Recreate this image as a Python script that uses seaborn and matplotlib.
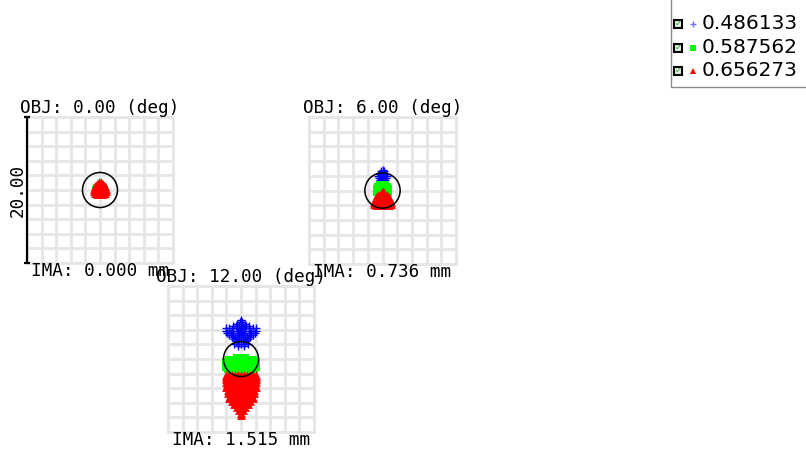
import matplotlib
matplotlib.use("Agg")
import numpy as np
import pandas as pd
import matplotlib.pyplot as plt
from matplotlib.patches import Circle, Rectangle
import seaborn as sns

# Wavelengths (um) and how each one is drawn
wavelengths = ["0.486133", "0.587562", "0.656273"]
wave_colors = ["#0000ff", "#00ff00", "#ff0000"]
wave_markers = ["+", "s", "^"]
wave_sizes = [36, 26, 40]

# Field points
field_angles = ["0.00", "6.00", "12.00"]
image_heights = ["0.000", "0.736", "1.515"]

scale_bar_um = 20.00
airy_radius_um = 2.4

# Ray intercepts relative to the chief ray (um), stored as rows of (y, [x, ...])
spot_f0_blue = [
    (0.5, [0.0]),
    (0.2, [-0.3, 0.3]),
    (-0.1, [-0.45, 0.0, 0.45]),
    (-0.4, [-0.3, 0.3]),
]
spot_f0_green = [
    (0.55, [0.0]),
    (0.25, [-0.35, 0.35]),
    (-0.05, [-0.5, 0.0, 0.5]),
    (-0.35, [-0.4, 0.0, 0.4]),
]
spot_f0_red = [
    (1.05, [-0.15, 0.15]),
    (0.8, [-0.42, -0.12, 0.12, 0.42]),
    (0.5, [-0.62, -0.22, 0.22, 0.62]),
    (0.2, [-0.78, -0.4, 0.0, 0.4, 0.78]),
    (-0.1, [-0.8, -0.45, -0.12, 0.12, 0.45, 0.8]),
    (-0.4, [-0.66, -0.33, 0.0, 0.33, 0.66]),
    (-0.5, [-0.4, 0.0, 0.4]),
]

spot_f6_blue = [
    (2.85, [0.0]),
    (2.6, [-0.15, 0.15]),
    (2.3, [-0.5, -0.2, 0.2, 0.5]),
    (2.0, [-0.55, -0.25, 0.0, 0.25, 0.55]),
    (1.7, [-0.5, -0.2, 0.2, 0.5]),
    (1.4, [-0.35, 0.0, 0.35]),
]
spot_f6_green = [
    (0.75, [-0.3, 0.0, 0.3]),
    (0.45, [-0.65, -0.3, 0.0, 0.3, 0.65]),
    (0.15, [-0.8, -0.48, -0.15, 0.15, 0.48, 0.8]),
    (-0.15, [-0.8, -0.48, -0.15, 0.15, 0.48, 0.8]),
]
spot_f6_red = [
    (-0.05, [0.0]),
    (-0.35, [-0.25, 0.25]),
    (-0.65, [-0.55, -0.2, 0.2, 0.55]),
    (-0.95, [-0.85, -0.5, -0.15, 0.15, 0.5, 0.85]),
    (-1.25, [-1.05, -0.72, -0.38, 0.0, 0.38, 0.72, 1.05]),
    (-1.55, [-1.2, -0.9, -0.55, -0.2, 0.2, 0.55, 0.9, 1.2]),
    (-1.8, [-1.2, -0.85, -0.5, -0.15, 0.15, 0.5, 0.85, 1.2]),
    (-1.95, [-0.85, -0.42, 0.0, 0.42, 0.85]),
]

spot_f12_blue = [
    (5.35, [0.0]),
    (5.05, [-0.2, 0.2]),
    (4.8, [-0.5, 0.0, 0.5]),
    (4.5, [-1.1, -0.7, -0.3, 0.0, 0.3, 0.7, 1.1]),
    (4.2, [-2.0, -1.6, -1.1, -0.6, -0.2, 0.2, 0.6, 1.1, 1.6, 2.0]),
    (3.9, [-2.1, -1.7, -1.3, -0.5, -0.15, 0.15, 0.5, 1.3, 1.7, 2.1]),
    (3.6, [-1.9, -1.4, -0.4, 0.0, 0.4, 1.4, 1.9]),
    (3.3, [-1.7, -1.1, -0.3, 0.3, 1.1, 1.7]),
    (3.0, [-1.3, -0.8, -0.3, 0.3, 0.8, 1.3]),
    (2.7, [-1.0, -0.5, 0.0, 0.5, 1.0]),
    (2.4, [-0.7, -0.3, 0.3, 0.7]),
    (2.1, [-0.9, -0.4, 0.0, 0.4, 0.9]),
    (1.8, [-0.4, 0.4]),
]
spot_f12_green = [
    (0.15, [-0.6, -0.2, 0.2, 0.6]),
    (-0.15, [-1.6, -1.2, -0.8, -0.4, 0.0, 0.4, 0.8, 1.2, 1.6]),
    (-0.45, [-2.0, -1.6, -1.2, -0.8, -0.4, 0.0, 0.4, 0.8, 1.2, 1.6, 2.0]),
    (-0.75, [-2.0, -1.6, -1.2, -0.8, -0.4, 0.0, 0.4, 0.8, 1.2, 1.6, 2.0]),
    (-1.05, [-2.0, -1.6, -1.2, -0.8, -0.4, 0.0, 0.4, 0.8, 1.2, 1.6, 2.0]),
    (-1.35, [-1.8, -1.4, -1.0, -0.6, -0.2, 0.2, 0.6, 1.0, 1.4, 1.8]),
    (-1.6, [-1.4, -1.0, -0.6, -0.2, 0.2, 0.6, 1.0, 1.4]),
]
spot_f12_red = [
    (-2.2, [-2.0, -1.6, -1.2, -0.8, -0.4, 0.0, 0.4, 0.8, 1.2, 1.6, 2.0]),
    (-2.5, [-2.0, -1.6, -1.2, -0.8, -0.4, 0.0, 0.4, 0.8, 1.2, 1.6, 2.0]),
    (-2.8, [-2.05, -1.65, -1.25, -0.85, -0.45, 0.0, 0.45, 0.85, 1.25, 1.65, 2.05]),
    (-3.1, [-2.0, -1.6, -1.2, -0.6, -0.2, 0.2, 0.6, 1.2, 1.6, 2.0]),
    (-3.4, [-1.9, -1.4, -0.8, -0.4, 0.0, 0.4, 0.8, 1.4, 1.9]),
    (-3.8, [-2.0, -1.5, -0.7, -0.3, 0.3, 0.7, 1.5, 2.0]),
    (-4.2, [-1.8, -1.3, -0.6, -0.2, 0.2, 0.6, 1.3, 1.8]),
    (-4.6, [-1.8, -1.2, -0.6, 0.0, 0.6, 1.2, 1.8]),
    (-5.0, [-1.5, -0.6, -0.2, 0.2, 0.6, 1.5]),
    (-5.4, [-1.6, -1.1, -0.5, 0.0, 0.5, 1.1, 1.6]),
    (-5.8, [-1.2, -0.5, 0.0, 0.5, 1.2]),
    (-6.2, [-1.0, -0.5, 0.0, 0.5, 1.0]),
    (-6.6, [-0.6, 0.0, 0.6]),
    (-7.0, [-0.3, 0.3]),
    (-7.4, [0.0]),
    (-7.7, [0.0]),
]

spots = [
    [spot_f0_blue, spot_f0_green, spot_f0_red],
    [spot_f6_blue, spot_f6_green, spot_f6_red],
    [spot_f12_blue, spot_f12_green, spot_f12_red],
]


def rows_to_frame(rows):
    xs, ys = [], []
    for y, row in rows:
        for x in row:
            xs.append(x)
            ys.append(y)
    return pd.DataFrame({"x": xs, "y": ys})


sns.set_style("white")
plt.rcParams["font.family"] = ["DejaVu Sans Mono", "DejaVu Sans"]

W, H = 806, 450
fig = plt.figure(figsize=(W / 100, H / 100), dpi=100)

# panel boxes in pixels: left, top, size
panel_px = [(27, 117, 146), (309, 117, 147), (168, 286, 146)]
grid_color = "#e6e6e6"
mono = 12.7

half = scale_bar_um / 2
for i, (px, py, size) in enumerate(panel_px):
    ax = fig.add_axes([px / W, 1 - (py + size) / H, size / W, size / H])
    ax.set_xlim(-half, half)
    ax.set_ylim(-half, half)
    ticks = np.linspace(-half, half, 11)
    ax.set_xticks(ticks)
    ax.set_yticks(ticks)
    ax.tick_params(length=0, labelbottom=False, labelleft=False)
    ax.grid(True, color=grid_color, lw=2.0)
    for sp in ax.spines.values():
        sp.set_color(grid_color)
        sp.set_linewidth(2.0)

    for w in range(3):
        df = rows_to_frame(spots[i][w])
        if wave_markers[w] == "+":
            sns.scatterplot(data=df, x="x", y="y", marker="+", color=wave_colors[w],
                            s=wave_sizes[w], linewidth=1.0, ax=ax, legend=False, zorder=3)
        else:
            sns.scatterplot(data=df, x="x", y="y", marker=wave_markers[w], color=wave_colors[w],
                            s=wave_sizes[w], linewidth=0, edgecolor=wave_colors[w],
                            ax=ax, legend=False, zorder=3)
    ax.set_xlabel("")
    ax.set_ylabel("")

    ax.add_patch(Circle((0, 0), airy_radius_um, fill=False, ec="black", lw=1.1, zorder=4))

    ax.text(0.5, 1 + 9 / size, f"OBJ: {field_angles[i]} (deg)", transform=ax.transAxes,
            ha="center", va="center", fontsize=mono, color="black")
    ax.text(0.5, -8 / size, f"IMA: {image_heights[i]} mm", transform=ax.transAxes,
            ha="center", va="center", fontsize=mono, color="black")

    if i == 0:
        ax.plot([-half, -half], [-half, half], color="black", lw=1.6, clip_on=False,
                marker="_", ms=5, mew=1.6, zorder=5)
        ax.text(-9 / size, 0.5, f"{scale_bar_um:.2f}", transform=ax.transAxes,
                rotation=90, ha="center", va="center", fontsize=mono, color="black")

# wavelength key in the upper right corner
lax = fig.add_axes([0, 0, 1, 1], facecolor="none")
lax.set_xlim(0, W)
lax.set_ylim(H, 0)
lax.axis("off")
lax.add_patch(Rectangle((670.5, -2), 140, 88.5, fill=False, ec="#8a8a8a", lw=1.0))
row_y = [23.5, 47.5, 70.5]
for w in range(3):
    y = row_y[w]
    lax.plot([678], [y], marker="s", ms=5.5, mfc="#dff5df", mec="black", mew=1.5)
    lax.text(678, y + 0.3, "\u2713", color="#1e9a1e", fontsize=6, ha="center", va="center",
             family="DejaVu Sans", fontweight="bold")
    if wave_markers[w] == "+":
        lax.plot([693], [y], marker="+", ms=5, mew=1.0, color="#7070ff")
    else:
        lax.plot([693], [y], marker=wave_markers[w], ms=4.5, mew=0, color=wave_colors[w])
    lax.text(702, y, wavelengths[w], fontsize=14.5, ha="left", va="center",
             family="DejaVu Sans", color="black")

fig.savefig("out.png", dpi=100)
